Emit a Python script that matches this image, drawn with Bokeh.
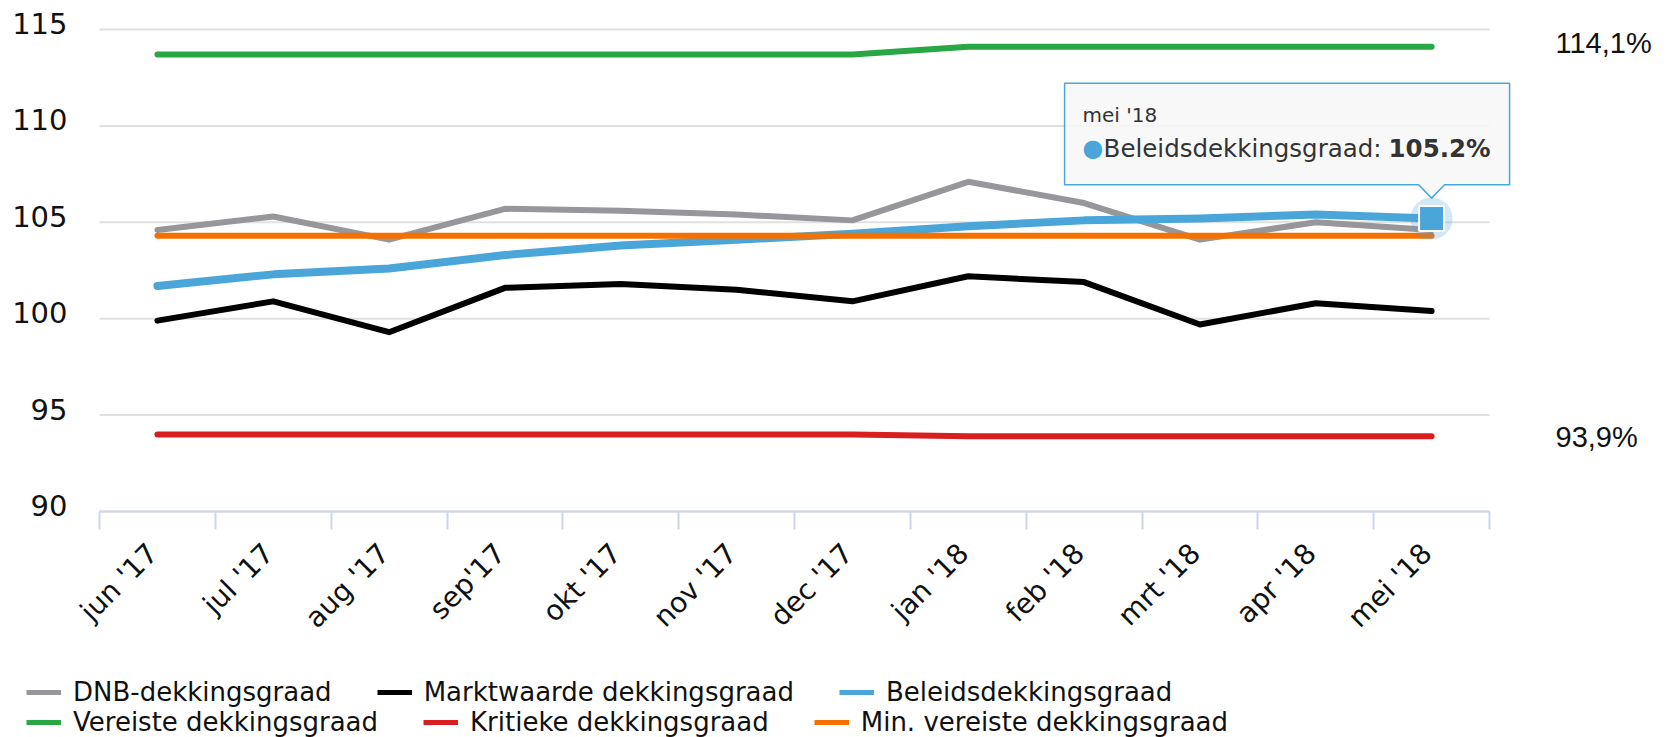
import math
from bokeh.plotting import figure
from bokeh.models import (Range1d, FixedTicker, Label, Legend, LegendItem,
                          PolyAnnotation, LinearAxis)
from bokeh.embed import file_html
from bokeh.resources import INLINE

# ---------------- data ----------------
months = ["jun '17", "jul '17", "aug '17", "sep'17", "okt '17", "nov '17",
          "dec '17", "jan '18", "feb '18", "mrt '18", "apr '18", "mei '18"]
dnb = [104.6, 105.3, 104.1, 105.7, 105.6, 105.4, 105.1, 107.1, 106.0, 104.1, 105.0, 104.6]
markt = [99.9, 100.9, 99.3, 101.6, 101.8, 101.5, 100.9, 102.2, 101.9, 99.7, 100.8, 100.4]
beleids = [101.7, 102.3, 102.6, 103.3, 103.8, 104.1, 104.4, 104.8, 105.1, 105.2, 105.4, 105.2]
vereiste = [113.7, 113.7, 113.7, 113.7, 113.7, 113.7, 113.7, 114.1, 114.1, 114.1, 114.1, 114.1]
kritieke = [94.0, 94.0, 94.0, 94.0, 94.0, 94.0, 94.0, 93.9, 93.9, 93.9, 93.9, 93.9]
min_vereiste = [104.3, 104.3, 104.3, 104.3, 104.3, 104.3, 104.3, 104.3, 104.3, 104.3, 104.3, 104.3]
y_ticks = [90, 95, 100, 105, 110, 115]

names = ["DNB-dekkingsgraad", "Marktwaarde dekkingsgraad", "Beleidsdekkingsgraad",
         "Vereiste dekkingsgraad", "Kritieke dekkingsgraad", "Min. vereiste dekkingsgraad"]
colors = ["#97979b", "#000000", "#4aa5d8", "#28a745", "#d81e1e", "#f47100"]

n = len(months)
x = [i + 0.5 for i in range(n)]
label_pos = [round(i + 0.46, 2) for i in range(n)]   # label anchors, nudged left

FONT = "DejaVu Sans"
W, H = 1668, 737
FL, FR, FT, FB = 99, 1489, 29, 511          # category area / 115..90 (canvas px)
PXX = (FR - FL) / n
PXY = (FB - FT) / (115 - 90)
x_start = -FL / PXX
x_end = n + (W - FR) / PXX
y_bot = 90 - (H - FB) / PXY
y_top = 90 + FB / PXY
shift = 6 / PXY

# the frame covers the whole canvas; axes are pinned at fixed data locations
p = figure(width=W, height=H, output_backend="svg", toolbar_location=None,
           x_range=Range1d(x_start, x_end), y_range=Range1d(y_bot, y_top),
           y_axis_location=None, min_border=0,
           min_border_left=0, min_border_right=0, min_border_top=0, min_border_bottom=0,
           title=None)
p.outline_line_color = None
for g in p.grid:
    g.visible = False

# grid lines limited to the category area
p.segment(x0=[0] * len(y_ticks), x1=[n] * len(y_ticks), y0=y_ticks, y1=y_ticks,
          line_color="#e0e0e0", line_width=2)

# y axis (labels slightly raised, as in the reference)
p.extra_y_ranges = {"lab": Range1d(y_bot - shift, y_top - shift)}
ya = LinearAxis(y_range_name="lab", ticker=FixedTicker(ticks=y_ticks), fixed_location=0)
ya.axis_line_color = None
ya.major_tick_line_color = None
ya.minor_tick_line_color = None
ya.major_tick_out = 0
ya.major_tick_in = 0
ya.major_label_standoff = 32
ya.major_label_text_font = FONT
ya.major_label_text_font_size = "29px"
ya.major_label_text_color = "#111111"
p.add_layout(ya, "left")

# x axis pinned at y = 90
xa = p.xaxis[0]
xa.fixed_location = 90
xa.bounds = (0, n)
xa.ticker = FixedTicker(ticks=label_pos, minor_ticks=list(range(n + 1)))
xa.major_label_overrides = {lp: m for lp, m in zip(label_pos, months)}
xa.major_label_orientation = math.pi / 4
xa.major_label_text_font = FONT
xa.major_label_text_font_size = "28px"
xa.major_label_text_color = "#111111"
xa.major_label_standoff = 19
xa.major_tick_out = 0
xa.major_tick_in = 0
xa.minor_tick_out = 18
xa.minor_tick_in = 0
xa.minor_tick_line_color = "#ccd6eb"
xa.minor_tick_line_width = 2
xa.axis_line_color = "#ccd6eb"
xa.axis_line_width = 2

series = [dnb, markt, beleids, vereiste, kritieke, min_vereiste]
widths = [6, 6, 8, 6, 6, 6]
for s, c, w in zip(series, colors, widths):
    p.line(x, s, line_color=c, line_width=w, line_cap="round", line_join="round")

# right-side labels
def nl(v):
    return f"{v:.1f}".replace(".", ",") + "%"

for v, off in ((vereiste[-1], 4), (kritieke[-1], -1)):
    p.add_layout(Label(x=n, y=v, x_offset=66, y_offset=off, text=nl(v),
                       text_align="left", text_baseline="middle",
                       text_font="Liberation Sans", text_font_size="29px",
                       text_color="#111111"))

# hover marker at last point
px_last, py_last = x[-1], beleids[-1]
p.scatter([px_last], [py_last], marker="circle", size=42, fill_color=colors[2],
          fill_alpha=0.25, line_color=None)
p.scatter([px_last], [py_last], marker="square", size=25, fill_color=colors[2],
          line_color="white", line_width=2)

# tooltip box with callout
def dx(v):
    return v / PXX

def dy(v):
    return v / PXY

L_, R_, T_, B_, half, tip = -367, 78, 135.3, 33.7, 13, 20.3
xs = [px_last + dx(L_), px_last + dx(R_), px_last + dx(R_), px_last + dx(half),
      px_last, px_last + dx(-half), px_last + dx(L_)]
ys = [py_last + dy(T_), py_last + dy(T_), py_last + dy(B_), py_last + dy(B_),
      py_last + dy(tip), py_last + dy(B_), py_last + dy(B_)]
p.add_layout(PolyAnnotation(xs=xs, ys=ys, fill_color="#f7f7f7", fill_alpha=0.85,
                            line_color=colors[2], line_alpha=1.0, line_width=1.5))

p.add_layout(Label(x=px_last, y=py_last, x_offset=-349, y_offset=103, text=months[-1],
                   text_align="left", text_baseline="alphabetic",
                   text_font=FONT, text_font_size="20px", text_color="#333333"))
p.add_layout(Label(x=px_last, y=py_last, x_offset=-349, y_offset=70, text="\u25cf",
                   text_align="left", text_baseline="alphabetic",
                   text_font=FONT, text_font_size="24px", text_color=colors[2]))
p.add_layout(Label(x=px_last, y=py_last, x_offset=-328, y_offset=70, text=names[2] + ":",
                   text_align="left", text_baseline="alphabetic",
                   text_font=FONT, text_font_size="24.5px", text_color="#333333"))
p.add_layout(Label(x=px_last, y=py_last, x_offset=59, y_offset=70, text=f"{beleids[-1]:.1f}%",
                   text_align="right", text_baseline="alphabetic", text_font_style="bold",
                   text_font=FONT, text_font_size="24.5px", text_color="#333333"))

# ---------------- legend: two flowing rows (uniform symbol thickness) ----------------
nan = float("nan")
leg_r = [p.line(x=[nan], y=[nan], line_color=c, line_width=5) for c in colors]

def make_legend(idx, loc):
    items = [LegendItem(label=names[i], renderers=[leg_r[i]]) for i in idx]
    return Legend(items=items, orientation="horizontal", location=loc,
                  glyph_width=35, glyph_height=20, label_standoff=12, spacing=45,
                  padding=0, margin=0, border_line_alpha=0, background_fill_alpha=0,
                  label_text_font=FONT, label_text_font_size="26px",
                  label_text_color="#111111", label_height=20)

p.add_layout(make_legend([0, 1, 2], (26, 30)))
p.add_layout(make_legend([3, 4, 5], (26, 0)))

open("out.html", "w").write(file_html(p, INLINE))
